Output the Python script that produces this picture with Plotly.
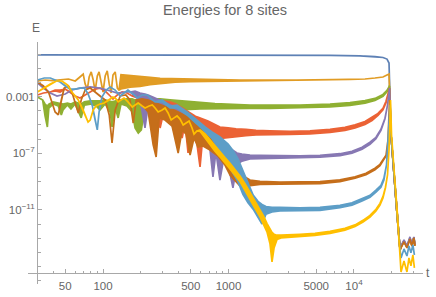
import plotly.graph_objects as go

# ---- series colours (Mathematica default palette) ----
colors = ["#5E81B5", "#E19C24", "#8FB032", "#EB6235", "#8778B3", "#C56E1A", "#5D9EC7", "#FFBF00"]

# ---- data: time t and log10(E) envelopes (upper / lower edge of the noisy trace) ----
blue_t = [30, 237, 1483, 6440, 11160, 14700, 17020, 18330, 19020]
blue_hi = [-0.05, -0.05, -0.07, -0.08, -0.12, -0.16, -0.23, -0.34, -0.62]
blue_lo = blue_hi

orange_t = [30, 34.5, 39.5, 45.5, 53, 60, 65.5, 69.5, 72, 75, 77.5, 80.5, 83.5, 86.5, 90, 93, 96.5, 100, 104, 108,
            112, 116, 120, 125, 130, 134, 139, 164, 197, 237, 285, 375, 494, 712, 1235, 3715, 9290, 12240, 14700, 17020,
            18330, 19020]
orange_hi = [-1.89, -1.82, -1.86, -1.82, -1.75, -1.89, -1.61, -1.40, -2.10, -2.46, -1.61, -1.25, -1.82, -2.60, -1.54,
             -1.25, -1.96, -2.67, -1.54, -1.18, -2.10, -2.74, -1.47, -1.25, -2.39, -2.53, -1.45, -1.52, -1.58, -1.64,
             -1.70, -1.73, -1.76, -1.79, -1.82, -1.82, -1.78, -1.75, -1.68, -1.61, -1.47, -1.40]
orange_lo = orange_hi[:26] + [-2.45, -2.32, -2.28, -2.15, -2.08, -1.98, -1.93, -1.89, -1.85, -1.82, -1.78, -1.75,
                              -1.68, -1.61, -1.47, -1.40]

green_t = [30, 33, 34.5, 36, 37, 40, 44, 46.5, 48, 52, 55.5, 60, 64.5, 67, 71, 79, 88, 94.5, 104, 114,
           118, 125, 132, 139, 155, 171, 180, 191, 202, 212, 237, 285, 342, 411, 494, 593, 780, 1028, 1483, 2142,
           3715, 6440, 9290, 12240, 14700, 17020, 18330, 19200]
green_hi = [-3.02, -3.23, -3.52, -3.66, -3.52, -3.37, -3.45, -3.52, -3.52, -3.45, -3.52, -3.37, -3.45, -3.52, -3.37,
            -3.30, -3.30, -3.30, -3.23, -3.30, -3.37, -3.30, -3.23, -3.23, -3.16, -3.16, -3.23, -3.23, -3.23, -3.16,
            -3.16, -3.16, -3.23, -3.30, -3.37, -3.40, -3.48, -3.55, -3.59, -3.59, -3.59, -3.52, -3.42, -3.27, -3.12,
            -2.84, -2.55, -2.24]
green_lo = [-3.02, -3.23, -4.36, -5.14, -3.80, -3.52, -3.66, -4.29, -3.94, -3.59, -3.87, -3.52, -4.15, -4.50, -3.59,
            -3.52, -3.66, -3.94, -3.52, -4.08, -5.14, -3.80, -4.50, -3.52, -3.66, -4.08, -5.21, -5.57, -5.35, -4.15,
            -4.08, -4.08, -4.01, -3.94, -3.90, -3.87, -3.83, -3.82, -3.82, -3.82, -3.80, -3.73, -3.62, -3.45, -3.27,
            -2.98, -2.65, -2.24]

red_t = [30, 33.5, 38, 41.5, 45.5, 50, 54.5, 60, 65.5, 72, 79, 86.5, 94.5, 104, 114, 120, 130, 142, 155, 171,
         187, 205, 225, 247, 270, 285, 302, 342, 382, 427, 450, 476, 503, 541, 561, 593, 626, 687, 766, 855,
         993, 1148, 1378, 1656, 2142, 3093, 4460, 6440, 8470, 10200, 12240, 13920, 15530, 17020, 18000, 19200]
red_hi = [-2.88, -2.74, -2.67, -2.53, -2.53, -2.46, -2.67, -2.95, -3.09, -2.88, -2.67, -2.46, -2.39, -2.60, -2.95,
          -3.16, -2.88, -2.67, -2.74, -2.95, -2.81, -2.88, -3.02, -3.09, -3.23, -3.23, -3.30, -3.37, -3.52, -3.80,
          -3.94, -4.08, -4.22, -4.36, -4.43, -4.50, -4.58, -4.72, -4.93, -5.14, -5.21, -5.28, -5.31, -5.38, -5.42,
          -5.45, -5.42, -5.31, -5.17, -4.99, -4.75, -4.46, -4.18, -3.82, -3.32, -2.39]
red_lo = [-2.88, -2.74, -2.67, -2.60, -2.67, -2.46, -2.67, -2.95, -3.09, -2.88, -2.67, -2.46, -2.39, -2.60, -2.95,
          -3.16, -2.88, -2.67, -2.74, -2.95, -3.09, -3.23, -3.52, -3.73, -4.08, -5.21, -4.22, -4.43, -4.65, -5.92,
          -4.86, -6.98, -5.14, -5.35, -6.55, -7.97, -5.71, -5.85, -6.00, -5.95, -5.88, -5.82, -5.76, -5.70, -5.67,
          -5.66, -5.63, -5.52, -5.38, -5.20, -4.96, -4.68, -4.33, -3.92, -3.42, -2.39]

purple_t = [30, 33.5, 38, 43, 50, 56.5, 65.5, 79, 94.5, 108, 130, 150, 164, 180, 197, 216, 229, 260, 296, 342,
            375, 411, 459, 494, 541, 593, 650, 712, 752, 794, 855, 918, 993, 1085, 1168, 1279, 1483, 1782, 2573, 3715,
            5360, 7730, 9640, 11600, 13410, 14970, 16400, 17660, 18500, 19200]
purple_hi = [-2.03, -2.39, -2.74, -2.95, -2.81, -2.53, -2.39, -2.31, -2.39, -2.53, -2.74, -2.67, -2.67, -2.60, -2.74,
             -2.81, -2.88, -3.09, -3.30, -3.59, -3.73, -3.94, -4.22, -4.43, -4.72, -5.00, -5.35, -5.71, -5.85, -5.99,
             -6.20, -6.41, -6.62, -6.84, -6.98, -7.05, -7.12, -7.14, -7.18, -7.18, -7.14, -7.03, -6.86, -6.57, -6.22,
             -5.87, -5.30, -4.52, -3.59, -2.39]
purple_lo = [-2.03, -2.39, -2.74, -2.95, -2.81, -2.53, -2.39, -2.31, -2.39, -2.53, -2.74, -2.67, -2.67, -2.95, -3.23,
             -5.21, -3.59, -3.94, -4.15, -4.50, -5.71, -4.93, -5.21, -5.92, -5.64, -6.06, -6.27, -6.77, -8.67, -6.91,
             -8.89, -7.33, -7.83, -9.45, -7.80, -7.55, -7.40, -7.35, -7.33, -7.31, -7.27, -7.16, -6.99, -6.72, -6.36,
             -5.97, -5.38, -4.56, -3.59, -2.39]

brown_t = [30, 33.5, 37, 39.5, 41.5, 44, 46.5, 49, 53, 56.5, 60, 63.5, 67, 72, 79, 86.5, 94.5, 104, 112, 118,
           125, 137, 152, 164, 174, 184, 205, 229, 251, 265, 280, 312, 355, 397, 427, 459, 494, 531, 571, 626,
           712, 824, 937, 1028, 1127, 1235, 1353, 1483, 1782, 2573, 3715, 5360, 7730, 10200, 12470, 14700, 16110,
           17020, 18000, 18670, 19200]
brown_hi = [-1.96, -2.24, -2.74, -3.45, -4.08, -4.29, -3.23, -2.39, -2.24, -2.67, -3.45, -4.15, -3.23, -2.53, -2.39,
            -2.67, -2.95, -3.23, -4.29, -6.27, -3.94, -2.95, -2.88, -3.23, -4.86, -3.23, -3.16, -3.23, -3.37, -3.45,
            -3.52, -3.66, -3.87, -4.08, -4.22, -4.36, -4.58, -4.72, -4.93, -5.14, -5.49, -5.92, -6.41, -6.91, -7.47,
            -8.18, -8.67, -8.89, -8.99, -9.03, -9.03, -9.00, -8.87, -8.66, -8.41, -8.06, -7.78, -7.49, -7.14, -6.06,
            -3.23]
brown_lo = brown_hi[:26] + [-3.59, -4.08, -6.41, -7.26, -4.50, -4.65, -5.07, -6.98, -5.35, -5.64, -7.12, -5.92,
                            -6.55, -6.48, -6.77, -7.19, -7.83, -8.53, -8.89, -9.31, -9.45, -9.28, -9.20, -9.19,
                            -9.17, -9.14, -9.00, -8.76, -8.51, -8.16, -7.88, -7.59, -7.19, -6.13, -3.23]

lblue_t = [30, 34, 38, 41.5, 45.5, 50, 54.5, 60, 65.5, 71, 76, 82, 86.5, 90, 93, 98, 106, 114, 125, 137,
           147, 158, 174, 187, 205, 225, 242, 260, 296, 342, 389, 467, 561, 650, 738, 855, 993, 1085, 1190, 1303,
           1430, 1571, 1718, 1849, 1990, 2222, 2573, 3715, 5360, 7730, 9640, 11600, 13410, 14970, 16400, 17320,
           18160, 18670, 19370]
lblue_hi = [-1.82, -1.68, -1.68, -1.82, -1.96, -2.24, -2.46, -2.46, -2.39, -2.39, -2.81, -3.59, -4.65, -5.35, -4.08,
            -3.02, -2.53, -2.31, -2.53, -2.95, -2.74, -2.53, -2.81, -3.09, -2.88, -2.88, -3.16, -3.37, -3.23, -3.66,
            -3.59, -4.08, -4.65, -5.14, -5.49, -5.85, -6.35, -6.80, -7.40, -8.20, -9.10, -9.95, -10.40, -10.62,
            -10.76, -10.82, -10.83, -10.86, -10.82, -10.68, -10.50, -10.21, -9.97, -9.61, -9.26, -8.76, -7.83, -6.41,
            -3.59]
lblue_lo = lblue_hi[:28] + [-3.37, -3.80, -3.80, -4.29, -4.93, -5.45, -5.95, -6.90, -7.70, -8.40, -9.00, -9.90,
                            -10.50, -10.95, -11.50, -12.00, -11.30, -11.15, -11.08, -11.06, -11.03, -10.84, -10.66,
                            -10.37, -10.11, -9.75, -9.40, -8.89, -7.83, -6.41, -3.59]

yellow_t = [30, 34, 38, 42.5, 47, 52, 56.5, 63.5, 69.5, 73.5, 76, 79, 83.5, 88, 94.5, 102, 112, 120, 127, 132,
            139, 147, 158, 171, 180, 191, 205, 216, 233, 247, 260, 275, 296, 312, 330, 349, 368, 389, 411, 435,
            459, 485, 512, 531, 561, 593, 650, 712, 780, 855, 937, 1028, 1127, 1235, 1353, 1483, 1626, 1782, 1918,
            2025, 2142, 2222, 2306, 2436, 2620, 3093, 3715, 4887, 6440, 8470, 10200, 11800, 13410, 14970, 16110,
            17020, 17820, 18500, 19020, 19550]
yellow_hi = [-2.67, -2.39, -2.10, -1.89, -1.89, -2.17, -2.67, -3.23, -3.94, -4.50, -4.79, -4.65, -3.94, -3.66, -3.52,
             -3.45, -3.23, -3.02, -3.16, -3.37, -3.23, -3.09, -3.37, -3.73, -3.59, -3.45, -3.66, -3.80, -3.66, -3.59,
             -3.80, -4.08, -3.94, -3.80, -4.15, -4.65, -4.50, -4.36, -4.58, -5.00, -4.86, -4.72, -5.21, -5.64, -5.42,
             -5.35, -5.62, -6.05, -6.45, -6.90, -7.30, -7.70, -8.15, -8.60, -9.15, -9.75, -10.40, -11.00, -11.50,
             -11.95, -12.40, -12.60, -12.72, -12.79, -12.79, -12.77, -12.73, -12.66, -12.52, -12.31, -12.06, -11.74,
             -11.39, -10.96, -10.54, -10.05, -9.40, -8.53, -6.77, -3.23]
yellow_lo = yellow_hi[:45] + [-5.45, -5.90, -6.40, -6.85, -7.25, -7.70, -8.10, -8.55, -9.00, -9.60, -10.25, -10.90,
                              -11.50, -12.05, -12.55, -13.40, -14.68, -13.70, -13.10, -12.98, -12.91, -12.88, -12.80,
                              -12.66, -12.43, -12.18, -11.86, -11.51, -11.08, -10.66, -10.16, -9.45, -8.53, -6.77,
                              -3.23]

# ---- collapse after the quench ----
tail_t = [19740, 20500, 22000, 23280, 23700, 25030, 26430, 27920, 28950, 30020, 30570]
tail_t_low = [19740, 20500, 22000, 23280, 23700, 25030, 26430, 27420, 28430, 29480, 30300]
tail_t_yellow = [19920, 20870, 22220, 23280, 23700, 25030, 26430, 27420, 28430, 29480, 30300]
blue_tail = [-5.71, -7.69, -11.22, -13.83, -13.62, -13.20, -13.62, -13.00, -13.50, -12.95, -13.50]
orange_tail = [-5.71, -7.69, -11.22, -13.83, -13.65, -13.25, -13.65, -13.05, -13.55, -13.00, -13.55]
green_tail = [-5.71, -7.69, -11.22, -13.83, -13.60, -13.20, -13.60, -13.00, -13.50, -12.95, -13.50]
red_tail = [-5.71, -7.69, -11.22, -13.83, -13.60, -13.20, -13.60, -13.00, -13.50, -12.95, -13.50]
purple_tail = [-5.71, -7.69, -11.22, -13.83, -13.55, -13.13, -13.55, -12.91, -13.41, -12.91, -13.41]
brown_tail = [-5.71, -7.69, -11.22, -13.83, -13.69, -13.27, -13.69, -13.06, -13.55, -12.98, -13.55]
lblue_tail = [-5.71, -7.69, -11.22, -13.83, -14.40, -13.76, -14.26, -13.55, -14.04, -13.48, -14.19]
yellow_tail = [-5.71, -8.18, -11.36, -14.19, -15.39, -14.61, -15.39, -14.40, -14.96, -14.19, -15.10]

# ---- axis ticks ----
x_major = [50, 100, 500, 1000, 5000, 10000]
x_major_text = ["50", "100", "500", "1000", "5000", "10<sup>4</sup>"]
x_minor = [30, 40, 60, 70, 80, 90, 200, 300, 400, 600, 700, 800, 900, 2000, 3000, 4000, 6000, 7000, 8000, 9000,
           20000, 30000]
y_major = [1e-11, 1e-7, 1e-3]
y_major_text = ["10<sup>\u221211</sup>", "10<sup>\u22127</sup>", "0.001"]
y_minor = [1e0, 1e-1, 1e-2, 1e-4, 1e-5, 1e-6, 1e-8, 1e-9, 1e-10, 1e-12, 1e-13, 1e-14, 1e-15, 1e-16]

series = [
    (blue_t, blue_hi, blue_lo, tail_t, blue_tail),
    (orange_t, orange_hi, orange_lo, tail_t, orange_tail),
    (green_t, green_hi, green_lo, tail_t, green_tail),
    (red_t, red_hi, red_lo, tail_t, red_tail),
    (purple_t, purple_hi, purple_lo, tail_t, purple_tail),
    (brown_t, brown_hi, brown_lo, tail_t, brown_tail),
    (lblue_t, lblue_hi, lblue_lo, tail_t_low, lblue_tail),
    (yellow_t, yellow_hi, yellow_lo, tail_t_yellow, yellow_tail),
]

fig = go.Figure()
for (t, hi, lo, tt, te), col in zip(series, colors):
    xs = list(t) + list(tt)
    up = [10 ** v for v in list(hi) + list(te)]
    dn = [10 ** v for v in list(lo) + list(te)]
    fig.add_trace(go.Scatter(
        x=xs + xs[::-1], y=up + dn[::-1], mode="lines", fill="toself",
        fillcolor=col, line=dict(color=col, width=1.7), hoverinfo="skip", showlegend=False))

axis_col = "#A8A8A8"
font_col = "#666666"
fam = "Liberation Sans, Arial, sans-serif"

fig.update_layout(
    width=436, height=297,
    margin=dict(l=28, r=13, t=42, b=13, autoexpand=False),
    paper_bgcolor="white", plot_bgcolor="white",
    font=dict(family=fam, color=font_col, size=11.5),
    title=dict(text="Energies for 8 sites", x=225 / 436, xanchor="center", xref="container",
               y=1 - 10 / 297, yref="container", yanchor="middle",
               font=dict(family=fam, size=14.5, color=font_col)),
    xaxis=dict(type="log", range=[1.402, 4.550], anchor="free", position=11 / 242, automargin=False,
               showline=True, linecolor=axis_col, linewidth=1, showgrid=False, zeroline=False,
               tickmode="array", tickvals=x_major, ticktext=x_major_text, ticks="inside",
               ticklen=4, tickcolor=axis_col, tickfont=dict(size=11.5, color=font_col),
               ticklabelstandoff=2,
               minor=dict(tickmode="array", tickvals=x_minor, ticks="inside", ticklen=2.5, tickcolor=axis_col)),
    yaxis=dict(type="log", range=[-16.24, 0.866], anchor="free", position=9 / 395, automargin=False,
               showline=True, linecolor=axis_col, linewidth=1, showgrid=False, zeroline=False,
               tickmode="array", tickvals=y_major, ticktext=y_major_text, ticks="inside",
               ticklen=4, tickcolor=axis_col, tickfont=dict(size=11.5, color=font_col),
               minor=dict(tickmode="array", tickvals=y_minor, ticks="inside", ticklen=2.5, tickcolor=axis_col)),
    annotations=[
        dict(text="E", xref="paper", yref="paper", x=8 / 395, y=256 / 242, showarrow=False,
             xanchor="center", yanchor="middle", font=dict(family=fam, size=12, color=font_col)),
        dict(text="t", xref="paper", yref="paper", x=400 / 395, y=11 / 242, showarrow=False,
             xanchor="center", yanchor="middle", font=dict(family=fam, size=12, color=font_col)),
    ],
)

fig.write_html("out.html", config={"displayModeBar": False},
               post_script="document.body.style.margin='0';document.body.style.overflow='hidden';")
